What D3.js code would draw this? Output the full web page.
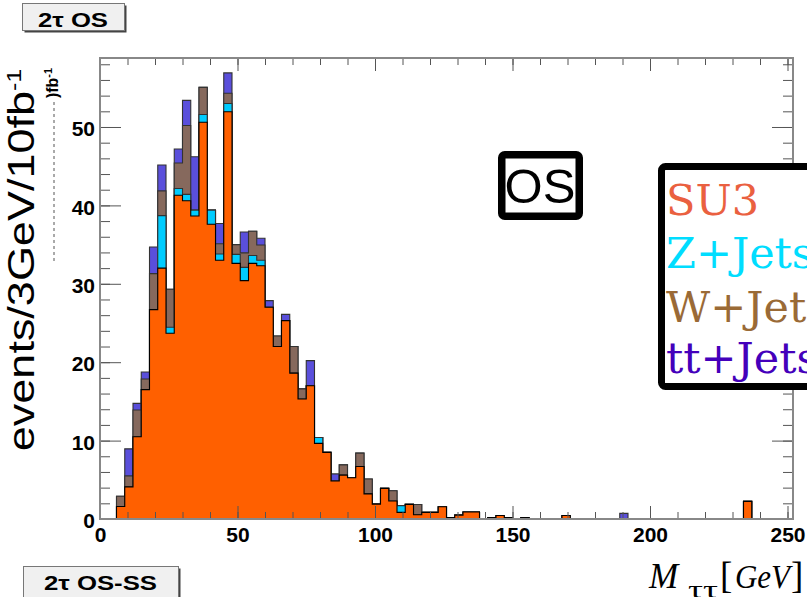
<!DOCTYPE html>
<html>
<head>
<meta charset="utf-8">
<script src="https://cdn.jsdelivr.net/npm/d3@7"></script>
<style>
body { margin: 0; background: #fff; }
svg { display: block; }
.tick text { font-family: "Liberation Sans", Arial, sans-serif; font-weight: bold; font-size: 21px; fill: #000; }
.tick line { stroke: #555; }
</style>
</head>
<body>
<script>
// 3 GeV bins, 0 - 252 GeV (84 bins), stacked bottom -> top
const binWidth = 3;

const su3 = [
    0, 0, 1.6, 4.1, 10.5, 16.5, 26.7, 32.0, 23.7, 41.3, 40.6, 38.65,
    50.6, 37.6, 33.0, 51.95, 32.6, 30.4, 32.6, 32.3, 27.0, 22.0, 25.3, 18.6,
    15.3, 17.0, 9.65, 8.5, 4.85, 5.6, 5.27, 6.7, 3.2, 1.9, 3.9, 2.3,
    0.85, 1.87, 0.55, 0.85, 0.85, 1.57, 0.2, 0.5, 0.9, 0.9, 0, 0.2,
    0.45, 0.2, 0, 0.2, 0, 0, 0, 0, 0.45, 0, 0, 0,
    0, 0, 0, 0, 0, 0, 0, 0, 0, 0, 0, 0,
    0, 0, 0, 0, 0, 0, 2.25, 0, 0, 0, 0, 0
];
const zjets = [
    0, 0, 0, 0, 0, 0, 0, 6.7, 0.75, 0.85, 0.8, 0.75,
    1.0, 1.8, 0.8, 1.05, 1.15, 1.7, 1.0, 0.7, 0, 0, 0, 0,
    0, 0, 0.75, 0, 0, 0, 0, 0, 0, 0, 0, 0,
    0.85, 0, 0, 0, 0, 0, 0, 0, 0, 0, 0, 0,
    0, 0, 0, 0, 0, 0, 0, 0, 0, 0, 0, 0,
    0, 0, 0, 0, 0, 0, 0, 0, 0, 0, 0, 0,
    0, 0, 0, 0, 0, 0, 0, 0, 0, 0, 0, 0
];
const wjets = [
    0, 0, 1.3, 1.4, 3.4, 1.35, 4.6, 3.15, 4.85, 3.25, 8.8, 0,
    3.45, 0, 1.3, 1.3, 1.25, 1.85, 3.1, 1.95, 0, 1.35, 0, 3.4,
    1.3, 0, 0, 0, 0, 1.3, 0, 1.7, 1.9, 0, 0, 1.3,
    0, 0, 1.3, 0, 0, 0, 0, 0, 0, 0, 0, 0,
    0, 0, 0, 0, 0, 0, 0, 0, 0, 0, 0, 0,
    0, 0, 0, 0, 0, 0, 0, 0, 0, 0, 0, 0,
    0, 0, 0, 0, 0, 0, 0, 0, 0, 0, 0, 0
];
const ttjets = [
    0, 0, 0, 3.45, 0.85, 0.9, 3.4, 3.3, 0, 1.8, 3.2, 6.8,
    0, 0, 2.6, 2.6, 0, 2.65, 0, 0.85, 0.85, 0, 0.8, 0,
    0, 3.2, 0, 0, 0.9, 0, 0, 0, 0, 0, 0, 0,
    0, 0, 0, 0, 0, 0, 0, 0, 0, 0, 0, 0,
    0, 0, 0, 0, 0, 0, 0, 0, 0, 0, 0, 0,
    0, 0, 0, 0.72, 0, 0, 0, 0, 0, 0, 0, 0,
    0, 0, 0, 0, 0, 0, 0, 0, 0, 0, 0, 0
];

const seriesNames = ['SU3', 'Z+Jets', 'W+Jets', 'tt+Jets'];
const xMajor = [0, 50, 100, 150, 200, 250];
const yMajor = [0, 10, 20, 30, 40, 50];

const fills = ['#ff6000', '#00ccff', '#86695d', '#5a4fdb'];
const legendColors = ['#ea6040', '#00ddff', '#9a6a36', '#4400bb'];

const width = 807, height = 597;
const frame = {left: 100, top: 58, right: 793, bottom: 519};

const x = d3.scaleLinear().domain([0, su3.length * binWidth]).range([frame.left, frame.right]);
const y = d3.scaleLinear().domain([0, 58.8]).range([frame.bottom, frame.top]);

const svg = d3.select('body').append('svg')
    .attr('width', width)
    .attr('height', height);

svg.append('clipPath').attr('id', 'plot-clip')
    .append('rect')
    .attr('x', frame.left).attr('y', frame.top)
    .attr('width', frame.right - frame.left).attr('height', frame.bottom - frame.top);

// cumulative sums, like a THStack
const series = [su3, zjets, wjets, ttjets];
const cumulative = [];
series.forEach(function(s, k) {
    cumulative.push(s.map(function(v, i) { return v + (k ? cumulative[k - 1][i] : 0); }));
});

function stepPoints(values) {
    const pts = values.map(function(v, i) { return [i * binWidth, v]; });
    pts.push([values.length * binWidth, values[values.length - 1]]);
    return pts;
}

const area = d3.area()
    .curve(d3.curveStepAfter)
    .x(function(d) { return x(d[0]); })
    .y0(y(0))
    .y1(function(d) { return y(d[1]); });

const hist = svg.append('g').attr('clip-path', 'url(#plot-clip)');

// biggest sum first, then the smaller ones on top
d3.range(cumulative.length - 1, -1, -1).forEach(function(k) {
    hist.append('path')
        .attr('class', 'layer')
        .attr('d', area(stepPoints(cumulative[k])))
        .attr('fill', fills[k])
        .attr('stroke', k === 0 ? '#000' : '#333')
        .attr('stroke-width', 1.1);
});

// ticks on all four sides
const xMinor = d3.range(0, 251, 10);
const yMinor = d3.range(0, 59, 2);

function tickAxis(axis, t) {
    const g = svg.append('g').attr('transform', t).call(axis);
    g.select('.domain').remove();
    return g;
}

tickAxis(d3.axisTop(x).tickValues(xMinor).tickSize(7).tickFormat(''), 'translate(0,' + frame.bottom + ')');
tickAxis(d3.axisTop(x).tickValues(xMajor).tickSize(13).tickFormat(''), 'translate(0,' + frame.bottom + ')');
tickAxis(d3.axisBottom(x).tickValues(xMinor).tickSize(7).tickFormat(''), 'translate(0,' + frame.top + ')');
tickAxis(d3.axisBottom(x).tickValues(xMajor).tickSize(13).tickFormat(''), 'translate(0,' + frame.top + ')');
tickAxis(d3.axisRight(y).tickValues(yMinor).tickSize(10).tickFormat(''), 'translate(' + frame.left + ',0)');
tickAxis(d3.axisRight(y).tickValues(yMajor).tickSize(21).tickFormat(''), 'translate(' + frame.left + ',0)');
tickAxis(d3.axisLeft(y).tickValues(yMinor).tickSize(10).tickFormat(''), 'translate(' + frame.right + ',0)');
tickAxis(d3.axisLeft(y).tickValues(yMajor).tickSize(21).tickFormat(''), 'translate(' + frame.right + ',0)');

// labels
tickAxis(d3.axisBottom(x).tickValues(xMajor).tickSize(0).tickPadding(8), 'translate(0,' + frame.bottom + ')');
tickAxis(d3.axisLeft(y).tickValues(yMajor).tickSize(0).tickPadding(5), 'translate(' + frame.left + ',2)');

svg.append('rect')
    .attr('x', frame.left).attr('y', frame.top)
    .attr('width', frame.right - frame.left).attr('height', frame.bottom - frame.top)
    .attr('fill', 'none')
    .attr('stroke', '#888')
    .attr('stroke-width', 2);

// y title
const ytitle = svg.append('text')
    .attr('transform', 'translate(34,260) rotate(-90) scale(1.25,1)')
    .attr('text-anchor', 'middle')
    .style('font-family', '"Liberation Sans", Arial, sans-serif')
    .style('font-size', '36px')
    .text('events/3GeV/10fb');
ytitle.append('tspan').attr('dy', -13).style('font-size', '20px').text('-1');

// leftover of the small title behind it
svg.append('line')
    .attr('x1', 54).attr('x2', 54).attr('y1', 102).attr('y2', 263)
    .attr('stroke', '#555').attr('stroke-dasharray', '3,3');
const ghost = svg.append('text')
    .attr('transform', 'translate(58,83) rotate(-90)')
    .attr('text-anchor', 'middle')
    .style('font-family', '"Liberation Sans", Arial, sans-serif')
    .style('font-weight', 'bold')
    .style('font-size', '16px')
    .text(')fb');
ghost.append('tspan').attr('dy', -6).style('font-size', '11px').text('-1');

// x title
const serif = '"Liberation Serif", "Times New Roman", serif';
svg.append('text').attr('x', 649).attr('y', 588)
    .style('font-family', serif).style('font-style', 'italic').style('font-size', '35px').text('M');
svg.append('text').attr('x', 688).attr('y', 598)
    .attr('textLength', 30).attr('lengthAdjust', 'spacingAndGlyphs')
    .style('font-family', serif).style('font-size', '26px').text('\u03c4\u03c4');
svg.append('text').attr('x', 720).attr('y', 588)
    .style('font-family', serif).style('font-size', '37px').text('[');
svg.append('text').attr('x', 735).attr('y', 588)
    .attr('textLength', 55).attr('lengthAdjust', 'spacingAndGlyphs')
    .style('font-family', serif).style('font-style', 'italic').style('font-size', '34px').text('GeV');
svg.append('text').attr('x', 791).attr('y', 588)
    .style('font-family', serif).style('font-size', '37px').text(']');

// "OS" box
svg.append('rect')
    .attr('x', 501.75).attr('y', 154.75).attr('width', 77.5).attr('height', 61.5).attr('rx', 3)
    .attr('fill', '#fff').attr('stroke', '#000').attr('stroke-width', 7.5);
svg.append('text').attr('x', 540).attr('y', 203)
    .attr('text-anchor', 'middle')
    .style('font-family', '"Liberation Sans", Arial, sans-serif')
    .style('font-size', '49px')
    .text('OS');

// legend
svg.append('rect')
    .attr('x', 661.5).attr('y', 166.5).attr('width', 200).attr('height', 220).attr('rx', 4)
    .attr('fill', '#fff').attr('stroke', '#000').attr('stroke-width', 7);
const legendBase = [215, 268, 322, 373];
svg.selectAll('text.legend')
    .data(seriesNames)
    .enter().append('text')
    .attr('class', 'legend')
    .attr('x', 666)
    .attr('y', function(d, i) { return legendBase[i]; })
    .attr('fill', function(d, i) { return legendColors[i]; })
    .style('font-family', '"DejaVu Serif", serif')
    .style('font-size', '43px')
    .text(function(d) { return d; });

// pad labels
function padLabel(bx, by, bw, bh, tx, ty, tlen, fs, label) {
    svg.append('rect').attr('x', bx + 2).attr('y', by + 2).attr('width', bw).attr('height', bh).attr('fill', '#444');
    svg.append('rect').attr('x', bx).attr('y', by).attr('width', bw).attr('height', bh)
        .attr('fill', '#f0f0f0').attr('stroke', '#777').attr('stroke-width', 1);
    svg.append('text').attr('x', tx).attr('y', ty)
        .attr('textLength', tlen).attr('lengthAdjust', 'spacingAndGlyphs')
        .style('font-family', '"Liberation Sans", Arial, sans-serif')
        .style('font-weight', 'bold')
        .style('font-size', fs + 'px')
        .text(label);
}
padLabel(22.5, 3.5, 102, 27, 38, 27, 70, 20, '2\u03c4 OS');
padLabel(23.5, 566.5, 155, 40, 44, 590, 113, 21, '2\u03c4 OS-SS');
</script>
</body>
</html>
